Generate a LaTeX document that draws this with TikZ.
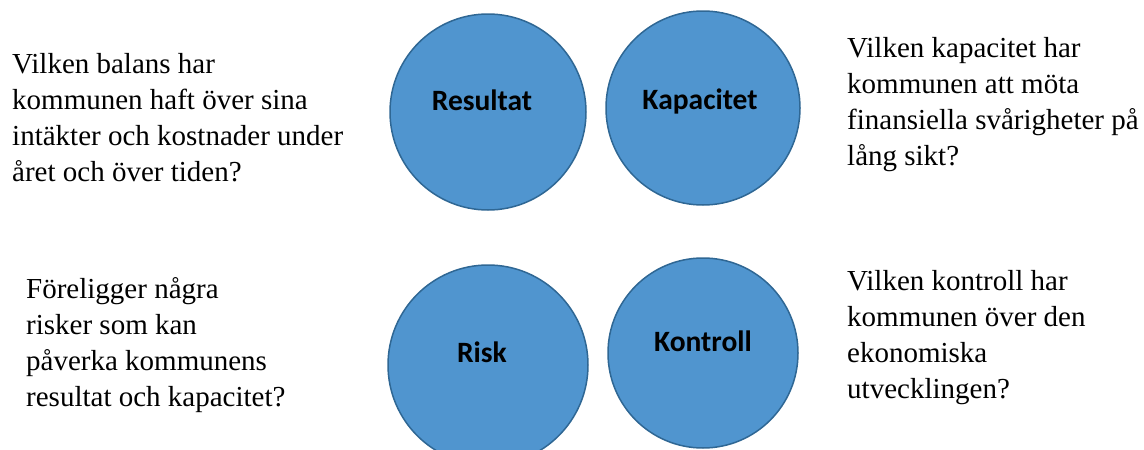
\documentclass[tikz,border=0pt]{standalone}
\usepackage{fontspec}
\setmainfont{Liberation Serif}
\newfontfamily\calibri{Carlito}
\usepackage{xcolor}
\usepackage{tikz}
\definecolor{circfill}{RGB}{80,149,207}
\definecolor{circline}{RGB}{47,103,148}
\tikzstyle{circ} = [circle, minimum size=196pt, inner sep=0pt, draw=circline, line width=1.5pt, fill=circfill]
\tikzstyle{circtext} = [inner sep=0pt, font=\calibri\bfseries\fontsize{29.5}{35}\selectfont]
\tikzstyle{question} = [align=left, anchor=north west, inner sep=0pt, font=\fontsize{29}{36}\selectfont]

\begin{document}
\begin{tikzpicture}[node distance=215pt]
\useasboundingbox (0pt,0pt) rectangle (1144pt,-450pt);
\clip (0pt,0pt) rectangle (1144pt,-450pt);

\node (res)[circ] at (488pt,-112pt) {};
\node (kap)[circ, minimum size=194pt, right of=res, yshift=4pt] {};
\node (risk)[circ, minimum size=200pt, below of=res, yshift=-38pt] {};
\node (kon)[circ, minimum size=190pt, right of=risk, yshift=12pt] {};

\node (reslbl)[circtext, xshift=-6pt, yshift=12pt] at (res) {Resultat};
\node (kaplbl)[circtext, xshift=-3pt, yshift=7pt] at (kap) {Kapacitet};
\node (risklbl)[circtext, xshift=-6pt, yshift=13pt] at (risk) {Risk};
\node (konlbl)[circtext, yshift=12pt] at (kon) {Kontroll};

\node (q1)[question] at (12pt,-53pt) {Vilken balans har\\kommunen haft över sina\\intäkter och kostnader under\\året och över tiden?};
\node (q2)[question] at (847pt,-37pt) {Vilken kapacitet har\\kommunen att möta\\finansiella svårigheter på\\lång sikt?};
\node (q3)[question] at (26pt,-277pt) {Föreligger några\\risker som kan\\påverka kommunens\\resultat och kapacitet?};
\node (q4)[question] at (847pt,-270pt) {Vilken kontroll har\\kommunen över den\\ekonomiska\\utvecklingen?};

\end{tikzpicture}
\end{document}
